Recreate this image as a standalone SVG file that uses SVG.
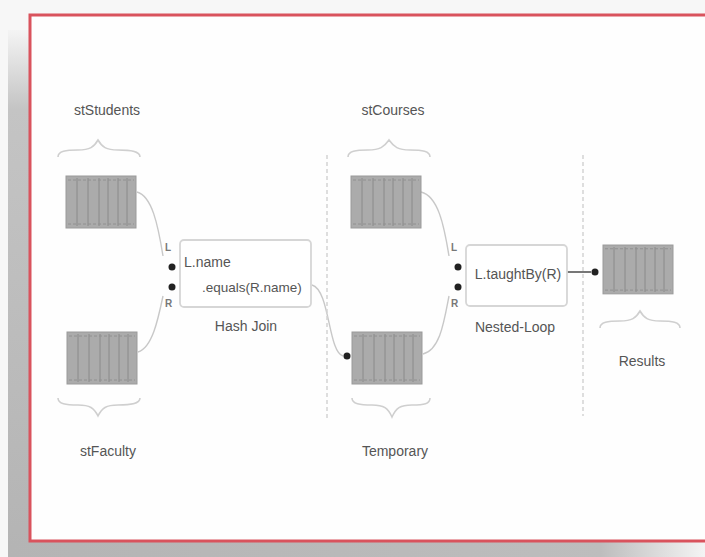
<svg xmlns="http://www.w3.org/2000/svg" width="705" height="557" viewBox="0 0 705 557">
<defs>
<linearGradient id="shB" x1="0" y1="0" x2="1" y2="0">
<stop offset="0" stop-color="#b4b4b4"/><stop offset="0.85" stop-color="#bdbdbd"/><stop offset="1" stop-color="#f4f4f4"/>
</linearGradient>
<linearGradient id="shT" x1="0" y1="0" x2="0" y2="1">
<stop offset="0" stop-color="#f4f4f4"/><stop offset="0.15" stop-color="#c4c4c4"/><stop offset="1" stop-color="#b4b4b4"/>
</linearGradient>
<g id="tbl">
<rect x="0" y="0" width="70" height="52" fill="#ababab" stroke="#9a9a9a" stroke-width="1"/>
<path d="M11,2V50M22,2V50M33,2V50M42,2V50M52,2V50M61,2V50" stroke="#909090" stroke-width="1.2"/>
<path d="M2,4H68M2,48H68" stroke="#909090" stroke-width="1" stroke-dasharray="3,2"/>
</g>
<circle id="dot" r="3.5" fill="#222"/>
</defs>
<style>
text{font-family:"Liberation Sans",Arial,sans-serif;fill:#555;font-size:14px}
.c{text-anchor:middle}
.sm{font-size:10px;font-weight:bold;fill:#777}
.brace{fill:none;stroke:#cfcfcf;stroke-width:1.6}
.con{fill:none;stroke:#c8c8c8;stroke-width:1.4}
.div{stroke:#d4d4d4;stroke-width:1.5;stroke-dasharray:4,3}
.box{fill:#fff;stroke:#d6d6d6;stroke-width:1.8}
</style>
<rect width="705" height="557" fill="#f7f7f7"/>
<rect x="8" y="30" width="22" height="527" fill="url(#shT)"/>
<rect x="8" y="541" width="697" height="16" fill="url(#shB)"/>
<rect x="30" y="15" width="690" height="526" fill="#fefefe" stroke="#d9535d" stroke-width="3"/>

<g id="connectors">
<path class="con" d="M137,192 C152,196 158,225 163,256"/>
<path class="con" d="M138,352 C152,348 158,320 163,296"/>
<path class="con" d="M312,285 C330,290 328,352 343,356"/>
<path class="con" d="M421,192 C438,196 444,225 449,256"/>
<path class="con" d="M423,354 C440,350 444,322 449,296"/>
<path d="M567,272 H591" stroke="#555" stroke-width="1.6"/>
<use href="#dot" x="595" y="272"/>
<use href="#dot" x="347" y="356"/>
<use href="#dot" x="172" y="267"/>
<use href="#dot" x="172" y="287"/>
<use href="#dot" x="458" y="267"/>
<use href="#dot" x="458" y="287"/>
<line class="div" x1="327" y1="155" x2="327" y2="418"/>
<line class="div" x1="583" y1="155" x2="583" y2="416"/>
</g>

<g id="stStudents">
<text class="c" x="107" y="115">stStudents</text>
<path class="brace" d="M58,157 C58,151 66,150 78,150 C90,150 94,147 98,140 C102,147 106,150 118,150 C130,150 140,151 140,157"/>
<use href="#tbl" x="66" y="176"/>
</g>
<g id="stFaculty">
<use href="#tbl" x="67" y="332"/>
<path class="brace" d="M58,398 C58,404 66,405 78,405 C90,405 94,408 98,416 C102,408 106,405 118,405 C130,405 140,404 140,398"/>
<text class="c" x="108" y="456">stFaculty</text>
</g>
<g id="hashjoin">
<text class="sm" x="165" y="251">L</text>
<text class="sm" x="165" y="307">R</text>
<rect class="box" x="180" y="240" width="131" height="67" rx="4"/>
<text x="184" y="267">L.name</text>
<text x="202" y="292" style="font-size:13.5px">.equals(R.name)</text>
<text class="c" x="246" y="331">Hash Join</text>
</g>
<g id="stCourses">
<text class="c" x="393" y="115">stCourses</text>
<path class="brace" d="M348,157 C348,151 356,150 368,150 C380,150 384,147 389,140 C394,147 398,150 410,150 C422,150 430,151 430,157"/>
<use href="#tbl" x="351" y="176"/>
</g>
<g id="temporary">
<use href="#tbl" x="352" y="332"/>
<path class="brace" d="M352,398 C352,404 360,405 372,405 C384,405 388,408 392,417 C396,408 400,405 412,405 C424,405 430,404 430,398"/>
<text class="c" x="395" y="456">Temporary</text>
</g>
<g id="nestedloop">
<text class="sm" x="451" y="251">L</text>
<text class="sm" x="451" y="307">R</text>
<rect class="box" x="466" y="245" width="101" height="61" rx="4"/>
<text class="c" x="518" y="279">L.taughtBy(R)</text>
<text class="c" x="515" y="332">Nested-Loop</text>
</g>
<g id="results">
<use href="#tbl" x="603" y="245" transform="translate(603 245) scale(1 0.94) translate(-603 -245)"/>
<path class="brace" d="M600,328 C600,322 608,321 620,321 C632,321 636,318 640,311 C644,318 648,321 660,321 C672,321 680,322 680,328"/>
<text class="c" x="642" y="366">Results</text>
</g>
</svg>
